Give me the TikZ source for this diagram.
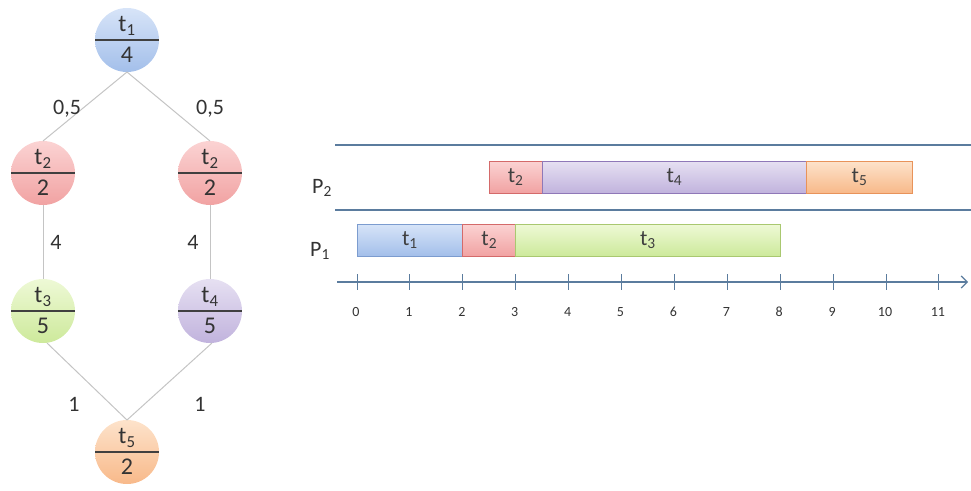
\documentclass[tikz,border=0pt]{standalone}
\usepackage{fontspec}
\setmainfont{Carlito}
\usetikzlibrary{arrows.meta}
\definecolor{edgegray}{HTML}{C4C4C4}
\definecolor{axisblue}{HTML}{5B7C9E}
\definecolor{bluetop}{HTML}{D7E4F8}\definecolor{bluebot}{HTML}{A3BFEA}
\definecolor{redtop}{HTML}{FBD3D3}\definecolor{redbot}{HTML}{F1A2A2}
\definecolor{greentop}{HTML}{EEF9D6}\definecolor{greenbot}{HTML}{CDE99B}
\definecolor{purtop}{HTML}{E6E0F2}\definecolor{purbot}{HTML}{C1B3DD}
\definecolor{ortop}{HTML}{FDE3CB}\definecolor{orbot}{HTML}{F8B98A}
\definecolor{blueline}{HTML}{7C9CCF}
\definecolor{redline}{HTML}{D46A6A}
\definecolor{greenline}{HTML}{A9C870}
\definecolor{purline}{HTML}{8F78B8}
\definecolor{orline}{HTML}{E8935A}
\tikzset{
  task/.style={circle, minimum size=64pt, inner sep=0pt, outer sep=0pt,
    path picture={\draw[line width=1.1pt, black!75] (path picture bounding box.west) -- (path picture bounding box.east);}},
  ctext/.style={font=\fontsize{24}{26}\selectfont, text=black!80, inner sep=0pt},
  elabel/.style={font=\fontsize{22}{24}\selectfont, text=black!80, inner sep=0pt},
  dep/.style={draw=edgegray, line width=1pt},
  bar/.style={draw, line width=0.8pt, minimum height=32pt, inner sep=0pt, outer sep=0pt, anchor=west,
    font=\fontsize{22}{24}\selectfont, text=black!75},
  procline/.style={draw=axisblue, line width=1.2pt},
  plabel/.style={font=\fontsize{22}{24}\selectfont, text=black!80, inner sep=0pt},
  ticklabel/.style={font=\fontsize{14}{16}\selectfont, text=black!80, inner sep=0pt},
}
\begin{document}
\begin{tikzpicture}[x=1pt,y=-1pt]
\useasboundingbox (0,0) rectangle (971,490);
% task graph
\node[task, top color=bluetop, bottom color=bluebot] (t1) at (127,40) {};
\node[task, top color=redtop, bottom color=redbot] (t2a) at (43,173) {};
\node[task, top color=redtop, bottom color=redbot] (t2b) at (210,173) {};
\node[task, top color=greentop, bottom color=greenbot] (t3) at (43,311) {};
\node[task, top color=purtop, bottom color=purbot] (t4) at (210,311) {};
\node[task, top color=ortop, bottom color=orbot] (t5) at (127,452) {};
\foreach \n/\s/\w in {t1/1/4, t2a/2/2, t2b/2/2, t3/3/5, t4/4/5, t5/5/2}{
  \node[ctext] (\n-name) at ([yshift=14pt]\n.center) {t\textsubscript{\s}};
  \node[ctext] (\n-w) at ([yshift=-15pt]\n.center) {\w};
}
\draw[dep] (t1.south) -- (t2a.north);
\draw[dep] (t1.south) -- (t2b.north);
\draw[dep] (t2a.south) -- (t3.north);
\draw[dep] (t2b.south) -- (t4.north);
\draw[dep] ([xshift=4pt]t3.south) -- (t5.north);
\draw[dep] ([xshift=2pt]t4.south) -- (t5.north);
\node[elabel] (l1) at (67,109) {0,5};
\node[elabel] (l2) at (210,109) {0,5};
\node[elabel] (l3) at (56,242) {4};
\node[elabel] (l4) at (193,242) {4};
\node[elabel] (l5) at (74,404) {1};
\node[elabel] (l6) at (200,404) {1};
% gantt
\coordinate (la1) at (335,145); \coordinate (la2) at (971,145);
\coordinate (lb1) at (335,210); \coordinate (lb2) at (971,210);
\draw[procline] (la1) -- (la2);
\draw[procline] (lb1) -- (lb2);
\node[plabel] (p2) at (322,188) {P\textsubscript{2}};
\node[plabel] (p1) at (320,251) {P\textsubscript{1}};
\def\u{52.9}
\def\oo{357}
\node[bar, draw=blueline, top color=bluetop, bottom color=bluebot, minimum width=2*\u pt] (g1) at (\oo,240) {t\textsubscript{1}};
\node[bar, draw=redline, top color=redtop, bottom color=redbot, minimum width=1*\u pt] (g2) at (\oo+2*\u,240) {t\textsubscript{2}};
\node[bar, draw=greenline, top color=greentop, bottom color=greenbot, minimum width=5*\u pt] (g3) at (\oo+3*\u,240) {t\textsubscript{3}};
\node[bar, draw=redline, top color=redtop, bottom color=redbot, minimum width=1*\u pt] (h2) at (\oo+2.5*\u,177) {t\textsubscript{2}};
\node[bar, draw=purline, top color=purtop, bottom color=purbot, minimum width=5*\u pt] (h4) at (\oo+3.5*\u,177) {t\textsubscript{4}};
\node[bar, draw=orline, top color=ortop, bottom color=orbot, minimum width=2*\u pt] (h5) at (\oo+8.5*\u,177) {t\textsubscript{5}};
\coordinate (ax0) at (337,282); \coordinate (ax1) at (968,282);
\draw[draw=axisblue, line width=1.2pt, -{Straight Barb[length=6pt,width=12pt]}] (ax0) -- (ax1);
\foreach \k in {0,...,11}{
  \draw[draw=axisblue, line width=1pt] (\oo+\k*\u,274) -- (\oo+\k*\u,290);
  \node[ticklabel] (tk\k) at (\oo+\k*\u-1,312) {\k};
}
\end{tikzpicture}
\end{document}
